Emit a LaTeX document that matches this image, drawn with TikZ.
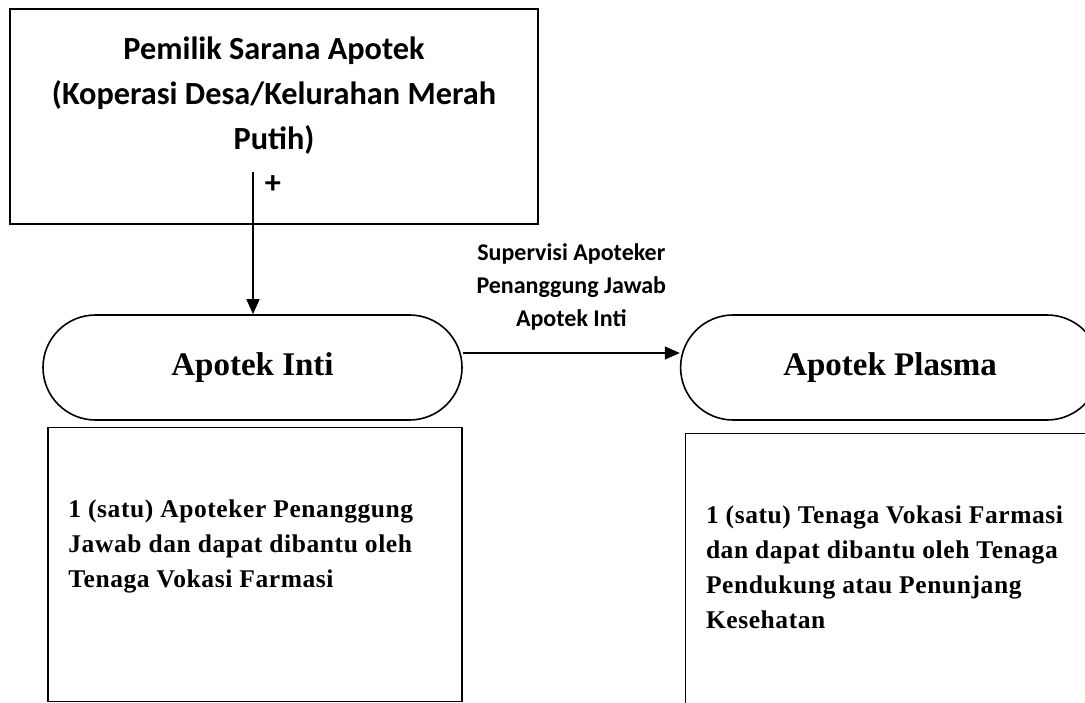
\documentclass[tikz,border=0pt]{standalone}
\usepackage{fontspec}
\setmainfont{Liberation Serif}
\newfontfamily\calibrifont{Carlito}
\usetikzlibrary{positioning,shapes.misc,arrows.meta}

\tikzset{every node/.style={inner sep=0pt}}
\tikzstyle{ownerbox}=[draw, line width=1.6pt, minimum width=528pt, minimum height=215pt]
\tikzstyle{ownertext}=[align=center, font=\calibrifont\fontsize{32.3}{45}\selectfont\bfseries]
\tikzstyle{apotek}=[rounded rectangle, draw, line width=1.6pt, minimum width=419pt, minimum height=105pt, font=\fontsize{33}{40}\selectfont\bfseries]
\tikzstyle{staffbox}=[draw, line width=1.6pt, minimum width=414pt, minimum height=274pt]
\tikzstyle{stafftext}=[align=left, anchor=north west, font=\addfontfeatures{LetterSpace=2.3}\fontsize{25.5}{35}\selectfont\bfseries]
\tikzstyle{flow}=[line width=1.4pt, -{Triangle[length=15pt,width=13pt]}]

\begin{document}
\begin{tikzpicture}[x=1pt, y=-1pt]
    \useasboundingbox (0,0) rectangle (1085,703);
    \clip (0,0) rectangle (1085,703);

    \node [ownerbox] (pemilik) at (274,116.5) {};
    \node [ownertext, below=28pt of pemilik.north] (pemiliktext)
        {Pemilik Sarana Apotek\\(Koperasi Desa/Kelurahan Merah\\Putih)};

    \node [apotek] (inti) at (252.5,367.5) {Apotek Inti};
    \node [apotek, right=217pt of inti] (plasma) {Apotek Plasma};

    \node [staffbox, below=6pt of inti, xshift=2.5pt] (intibox) {};
    \node [staffbox, below=12pt of plasma, xshift=2.5pt] (plasmabox) {};

    \node [stafftext] (intitext) at ([xshift=21pt, yshift=-73pt]intibox.north west)
        {1 (satu) Apoteker Penanggung\\Jawab dan dapat dibantu oleh\\Tenaga Vokasi Farmasi};
    \node [stafftext] (plasmatext) at ([xshift=21pt, yshift=-73pt]plasmabox.north west)
        {1 (satu) Tenaga Vokasi Farmasi\\dan dapat dibantu oleh Tenaga\\Pendukung atau Penunjang\\Kesehatan};

    % owner down to apotek inti
    \coordinate (start) at (253,172);
    \draw [flow] (start) -- (start |- inti.north);
    \node [ownertext] (plus) at (273,185) {+};

    % supervision
    \draw [flow] ([yshift=14.5pt]inti.east) -- ([yshift=14.5pt]inti.east -| plasma.west)
        node [midway, above=22pt, align=center, font=\calibrifont\fontsize{24}{33}\selectfont\bfseries] (supervisi)
        {Supervisi Apoteker\\Penanggung Jawab\\Apotek Inti};
\end{tikzpicture}
\end{document}
